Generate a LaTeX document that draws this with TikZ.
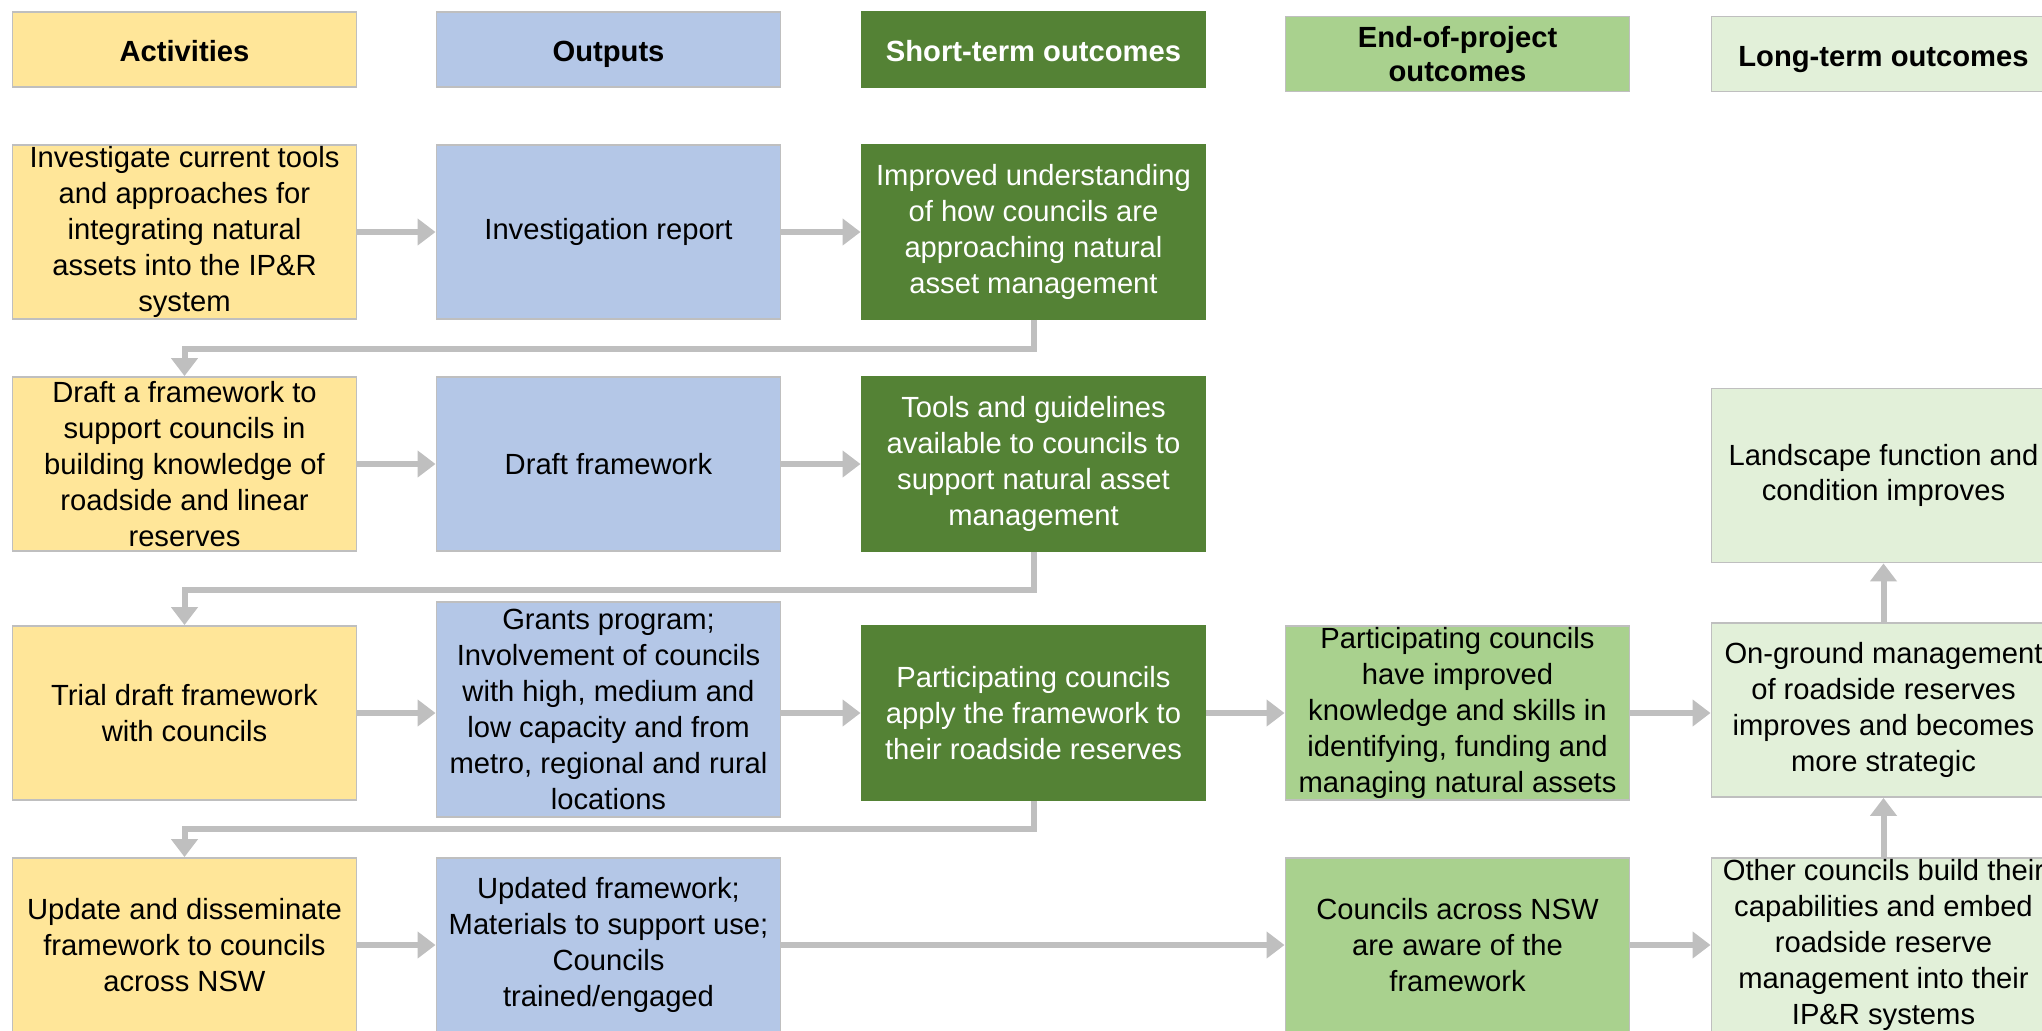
\documentclass[tikz,border=0pt]{standalone}
\usepackage{fontspec}
\setmainfont{Liberation Sans}
\usetikzlibrary{arrows.meta}
\definecolor{actfill}{HTML}{FFE699}
\definecolor{outfill}{HTML}{B4C7E7}
\definecolor{stfill}{HTML}{548235}
\definecolor{eopfill}{HTML}{A9D18E}
\definecolor{ltfill}{HTML}{E2F0D9}
\definecolor{linkgray}{HTML}{BFBFBF}
\tikzset{
  box/.style={draw=black!25, line width=0.5pt, minimum width=3.44cm, minimum height=1.74cm,
    inner sep=0pt, align=center, font=\fontsize{8.3}{10.2}\selectfont},
  actbox/.style={box, fill=actfill},
  outbox/.style={box, fill=outfill},
  stbox/.style={box, fill=stfill, draw=stfill, text=white},
  eopbox/.style={box, fill=eopfill},
  ltbox/.style={box, fill=ltfill},
  headbox/.style={minimum height=0.75cm, font=\bfseries\fontsize{8.3}{9.6}\selectfont},
  headline/.style={headbox, text height=1.3ex, text depth=0pt},
  link/.style={draw=linkgray, line width=0.06cm, -{Triangle[length=0.18cm,width=0.26cm]}},
}
\begin{document}
\begin{tikzpicture}[x=0.01cm,y=-0.01cm]
    \useasboundingbox (0,0) rectangle (2042,1030);
    \node[actbox, headline] (hact) at (184.5,49.5) {Activities};
    \node[outbox, headline] (hout) at (608.5,49.5) {Outputs};
    \node[stbox, headline] (hst) at (1033.5,49.5) {Short-term outcomes};
    \node[eopbox, headbox] (heop) at (1457.5,54) {End-of-project\\outcomes};
    \node[ltbox, headline] (hlt) at (1883.5,54) {Long-term outcomes};

    \node[actbox] (act1) at (184.5,232) {Investigate current tools\\and approaches for\\integrating natural\\assets into the IP\&R\\system};
    \node[outbox] (out1) at (608.5,232) {Investigation report};
    \node[stbox] (st1) at (1033.5,232) {Improved understanding\\of how councils are\\approaching natural\\asset management};

    \node[actbox] (act2) at (184.5,464) {Draft a framework to\\support councils in\\building knowledge of\\roadside and linear\\reserves};
    \node[outbox] (out2) at (608.5,464) {Draft framework};
    \node[stbox] (st2) at (1033.5,464) {Tools and guidelines\\available to councils to\\support natural asset\\management};
    \node[ltbox] (lt2) at (1883.5,475.5) {Landscape function and\\condition improves};

    \node[actbox] (act3) at (184.5,713) {Trial draft framework\\with councils};
    \node[outbox, minimum height=2.15cm] (out3) at (608.5,709.5) {Grants program;\\Involvement of councils\\with high, medium and\\low capacity and from\\metro, regional and rural\\locations};
    \node[stbox] (st3) at (1033.5,713) {Participating councils\\apply the framework to\\their roadside reserves};
    \node[eopbox] (eop3) at (1457.5,713) {Participating councils\\have improved\\knowledge and skills in\\identifying, funding and\\managing natural assets};
    \node[ltbox] (lt3) at (1883.5,710) {On-ground management\\of roadside reserves\\improves and becomes\\more strategic};

    \node[actbox] (act4) at (184.5,945) {Update and disseminate\\framework to councils\\across NSW};
    \node[outbox] (out4) at (608.5,945) {Updated framework;\\Materials to support use;\\Councils\\trained/engaged};
    \node[eopbox] (eop4) at (1457.5,945) {Councils across NSW\\are aware of the\\framework};
    \node[ltbox] (lt4) at (1883.5,945) {Other councils build their\\capabilities and embed\\roadside reserve\\management into their\\IP\&R systems};

    \draw[link] (act1) -- (out1);
    \draw[link] (out1) -- (st1);
    \draw[link] (act2) -- (out2);
    \draw[link] (out2) -- (st2);
    \draw[link] (act3.east) -- (act3.east -| out3.west);
    \draw[link] (out3.east |- st3) -- (st3);
    \draw[link] (st3) -- (eop3);
    \draw[link] (eop3.east) -- (eop3.east -| lt3.west);
    \draw[link] (act4) -- (out4);
    \draw[link] (out4) -- (eop4);
    \draw[link] (eop4) -- (lt4);
    \draw[link] (lt4) -- (lt3);
    \draw[link] (lt3) -- (lt2);

    \draw[link] (st1.south) -- ++(0,29) -| (act2.north);
    \draw[link] (st2.south) -- ++(0,38) -| (act3.north);
    \draw[link] (st3.south) -- ++(0,28) -| (act4.north);
\end{tikzpicture}
\end{document}
